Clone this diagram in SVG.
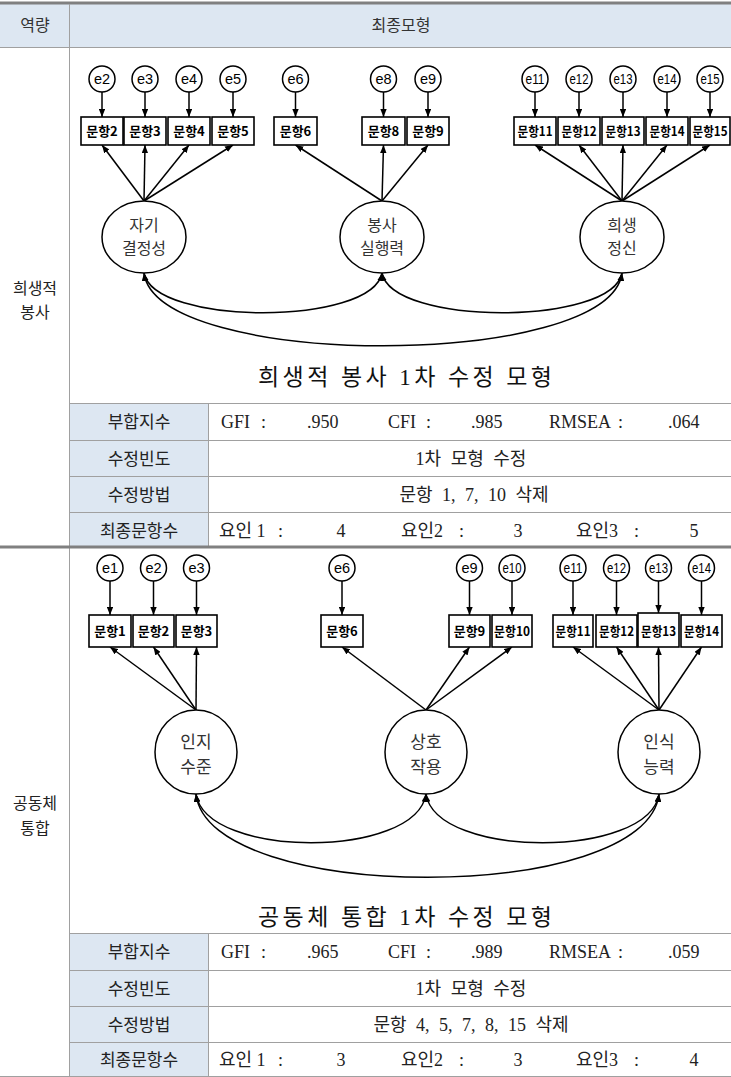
<svg xmlns="http://www.w3.org/2000/svg" width="731" height="1077" viewBox="0 0 731 1077">
<defs>
<style>
.bx{fill:#fff;stroke:#000;stroke-width:1.6}
.ci{fill:#fff;stroke:#000;stroke-width:1.5}
.bt{font-family:"Noto Sans CJK KR",sans-serif;font-weight:700;font-size:13px;fill:#000;text-anchor:middle}
.et{font-family:"Liberation Sans",Arial,sans-serif;font-size:14.5px;fill:#000;text-anchor:middle}
.lt{font-family:"Noto Sans CJK KR",sans-serif;font-size:16px;fill:#333;text-anchor:middle}
.lb{font-family:"Noto Sans CJK KR",sans-serif;font-size:17px;fill:#333;text-anchor:middle}
.ar{stroke:#000;stroke-width:1.5;fill:none;marker-end:url(#ah)}
.cv{stroke:#000;stroke-width:1.5;fill:none;marker-end:url(#ah);marker-start:url(#ahs)}
.gl{stroke:#a0a0a0;stroke-width:1;fill:none}
.tk{stroke:#808080;stroke-width:3;fill:none}
.hf{fill:#dde7f2}
.rl{font-family:"Noto Sans CJK KR",sans-serif;font-size:17px;fill:#222;text-anchor:middle}
.hd{font-family:"Noto Sans CJK KR",sans-serif;font-size:16px;fill:#333;text-anchor:middle}
.sd{font-family:"Noto Sans CJK KR",sans-serif;font-size:16px;fill:#222;text-anchor:middle}
.rv{font-family:"Liberation Serif","Noto Sans CJK KR",serif;font-size:18px;fill:#222}
.rc{font-family:"Liberation Serif","Noto Sans CJK KR",serif;font-size:18px;fill:#222;text-anchor:middle;word-spacing:5px}
.ttl{font-family:"Liberation Serif","Noto Sans CJK KR",serif;font-size:23px;fill:#111;text-anchor:middle}
</style>
<marker id="ah" viewBox="0 0 10 8" refX="10" refY="4" markerWidth="8" markerHeight="6.5" markerUnits="userSpaceOnUse" orient="auto"><path d="M0,0 L10,4 L0,8 z" fill="#000"/></marker>
<marker id="ahs" viewBox="0 0 10 8" refX="10" refY="4" markerWidth="8" markerHeight="6.5" markerUnits="userSpaceOnUse" orient="auto-start-reverse"><path d="M0,0 L10,4 L0,8 z" fill="#000"/></marker>
</defs>
<rect width="731" height="1077" fill="#fff"/>

<g id="table">
<rect class="hf" x="0" y="4" width="731" height="43"/>
<rect class="hf" x="70" y="404" width="138" height="143"/>
<rect class="hf" x="70" y="934" width="138" height="143"/>
<line class="tk" x1="0" y1="3" x2="731" y2="3"/>
<line class="gl" x1="0" y1="47.5" x2="731" y2="47.5"/>
<line class="gl" x1="69.5" y1="4" x2="69.5" y2="1077"/>
<line class="gl" x1="70" y1="403.5" x2="731" y2="403.5"/>
<line class="gl" x1="70" y1="440.5" x2="731" y2="440.5"/>
<line class="gl" x1="70" y1="476.5" x2="731" y2="476.5"/>
<line class="gl" x1="70" y1="512.5" x2="731" y2="512.5"/>
<line class="gl" x1="208.5" y1="403.5" x2="208.5" y2="546"/>
<line class="tk" x1="0" y1="547" x2="731" y2="547"/>
<line class="gl" x1="70" y1="933.5" x2="731" y2="933.5"/>
<line class="gl" x1="70" y1="970.5" x2="731" y2="970.5"/>
<line class="gl" x1="70" y1="1006.5" x2="731" y2="1006.5"/>
<line class="gl" x1="70" y1="1042.5" x2="731" y2="1042.5"/>
<line class="gl" x1="208.5" y1="933.5" x2="208.5" y2="1077"/>
<line class="gl" x1="0" y1="1076.5" x2="731" y2="1076.5"/>
<text class="hd" x="35" y="31">역량</text>
<text class="hd" x="401" y="31">최종모형</text>
<text class="sd" x="35" y="294">희생적</text>
<text class="sd" x="35" y="318">봉사</text>
<text class="sd" x="35" y="809">공동체</text>
<text class="sd" x="35" y="834">통합</text>
</g>

<g id="table-top-rows">
<text class="rl" x="139" y="428">부합지수</text>
<text class="rl" x="139" y="465">수정빈도</text>
<text class="rl" x="139" y="501">수정방법</text>
<text class="rl" x="139" y="537">최종문항수</text>
<text class="rv" x="221" y="428">GFI<tspan x="261">:</tspan></text>
<text class="rv" x="307" y="428">.950</text>
<text class="rv" x="388" y="428">CFI<tspan x="426">:</tspan></text>
<text class="rv" x="471" y="428">.985</text>
<text class="rv" x="549" y="428">RMSEA<tspan x="618">:</tspan></text>
<text class="rv" x="668" y="428">.064</text>
<text class="rc" x="471" y="465">1차 모형 수정</text>
<text class="rc" x="474" y="501">문항 1, 7, 10 삭제</text>
<text class="rv" x="219" y="537">요인 1<tspan x="278">:</tspan></text>
<text class="rv" x="341" y="537" text-anchor="middle">4</text>
<text class="rv" x="401" y="537">요인2<tspan x="459">:</tspan></text>
<text class="rv" x="518" y="537" text-anchor="middle">3</text>
<text class="rv" x="576" y="537">요인3<tspan x="634">:</tspan></text>
<text class="rv" x="694" y="537" text-anchor="middle">5</text>
</g>

<g id="table-bottom-rows">
<text class="rl" x="139" y="958">부합지수</text>
<text class="rl" x="139" y="995">수정빈도</text>
<text class="rl" x="139" y="1031">수정방법</text>
<text class="rl" x="139" y="1066">최종문항수</text>
<text class="rv" x="221" y="958">GFI<tspan x="261">:</tspan></text>
<text class="rv" x="307" y="958">.965</text>
<text class="rv" x="388" y="958">CFI<tspan x="426">:</tspan></text>
<text class="rv" x="471" y="958">.989</text>
<text class="rv" x="549" y="958">RMSEA<tspan x="618">:</tspan></text>
<text class="rv" x="668" y="958">.059</text>
<text class="rc" x="471" y="995">1차 모형 수정</text>
<text class="rc" x="471" y="1031">문항 4, 5, 7, 8, 15 삭제</text>
<text class="rv" x="219" y="1066">요인 1<tspan x="278">:</tspan></text>
<text class="rv" x="341" y="1066" text-anchor="middle">3</text>
<text class="rv" x="401" y="1066">요인2<tspan x="459">:</tspan></text>
<text class="rv" x="518" y="1066" text-anchor="middle">3</text>
<text class="rv" x="576" y="1066">요인3<tspan x="634">:</tspan></text>
<text class="rv" x="694" y="1066" text-anchor="middle">4</text>
</g>

<text class="ttl" x="405" y="385" textLength="294">희생적 봉사 1차 수정 모형</text>
<text class="ttl" x="405" y="925" textLength="294">공동체 통합 1차 수정 모형</text>

<g id="connectors">
<line class="ar" x1="102" y1="92" x2="102" y2="117"/>
<line class="ar" x1="145" y1="92" x2="145" y2="117"/>
<line class="ar" x1="189" y1="92" x2="189" y2="117"/>
<line class="ar" x1="233" y1="92" x2="233" y2="117"/>
<line class="ar" x1="295.5" y1="92" x2="295.5" y2="117"/>
<line class="ar" x1="383.5" y1="92" x2="383.5" y2="117"/>
<line class="ar" x1="428" y1="92" x2="428" y2="117"/>
<line class="ar" x1="535" y1="92" x2="535" y2="117"/>
<line class="ar" x1="579" y1="92" x2="579" y2="117"/>
<line class="ar" x1="623" y1="92" x2="623" y2="117"/>
<line class="ar" x1="667" y1="92" x2="667" y2="117"/>
<line class="ar" x1="710" y1="92" x2="710" y2="117"/>
<line class="ar" x1="144" y1="201" x2="102" y2="145"/>
<line class="ar" x1="144" y1="201" x2="145" y2="145"/>
<line class="ar" x1="144" y1="201" x2="189" y2="145"/>
<line class="ar" x1="144" y1="201" x2="233" y2="145"/>
<line class="ar" x1="382" y1="201" x2="295.5" y2="145"/>
<line class="ar" x1="382" y1="201" x2="383.5" y2="145"/>
<line class="ar" x1="382" y1="201" x2="428" y2="145"/>
<line class="ar" x1="622" y1="201" x2="535" y2="145"/>
<line class="ar" x1="622" y1="201" x2="579" y2="145"/>
<line class="ar" x1="622" y1="201" x2="623" y2="145"/>
<line class="ar" x1="622" y1="201" x2="667" y2="145"/>
<line class="ar" x1="622" y1="201" x2="710" y2="145"/>
<path class="cv" d="M144,273 C154,326 372,326 382,273"/>
<path class="cv" d="M382,273 C392,326 612,326 622,273"/>
<path class="cv" d="M144,273 C156,370 610,370 622,273"/>
<line class="ar" x1="110" y1="581" x2="110" y2="615"/>
<line class="ar" x1="153.5" y1="581" x2="153.5" y2="615"/>
<line class="ar" x1="196.5" y1="581" x2="196.5" y2="615"/>
<line class="ar" x1="342" y1="581" x2="342" y2="615"/>
<line class="ar" x1="469.5" y1="581" x2="469.5" y2="615"/>
<line class="ar" x1="512" y1="581" x2="512" y2="615"/>
<line class="ar" x1="573" y1="581" x2="573" y2="615"/>
<line class="ar" x1="616.5" y1="581" x2="616.5" y2="615"/>
<line class="ar" x1="658.5" y1="581" x2="658.5" y2="613"/>
<line class="ar" x1="701.5" y1="581" x2="701.5" y2="615"/>
<line class="ar" x1="196" y1="710" x2="110" y2="647"/>
<line class="ar" x1="196" y1="710" x2="153.5" y2="647"/>
<line class="ar" x1="196" y1="710" x2="196.5" y2="647"/>
<line class="ar" x1="426" y1="710" x2="342" y2="647"/>
<line class="ar" x1="426" y1="710" x2="469.5" y2="647"/>
<line class="ar" x1="426" y1="710" x2="512" y2="647"/>
<line class="ar" x1="659" y1="710" x2="573" y2="647"/>
<line class="ar" x1="659" y1="710" x2="616.5" y2="647"/>
<line class="ar" x1="659" y1="710" x2="658.5" y2="647"/>
<line class="ar" x1="659" y1="710" x2="701.5" y2="647"/>
<path class="cv" d="M196,794 C206,859 416,859 426,794"/>
<path class="cv" d="M426,794 C436,859 649,859 659,794"/>
<path class="cv" d="M196,794 C208,905 647,905 659,794"/>
</g>

<g id="e2"><circle class="ci" cx="102" cy="79" r="13"/><text class="et" x="102" y="84">e2</text></g>
<g id="e3"><circle class="ci" cx="145" cy="79" r="13"/><text class="et" x="145" y="84">e3</text></g>
<g id="e4"><circle class="ci" cx="189" cy="79" r="13"/><text class="et" x="189" y="84">e4</text></g>
<g id="e5"><circle class="ci" cx="233" cy="79" r="13"/><text class="et" x="233" y="84">e5</text></g>
<g id="e6"><circle class="ci" cx="295.5" cy="79" r="13"/><text class="et" x="295.5" y="84">e6</text></g>
<g id="e8"><circle class="ci" cx="383.5" cy="79" r="13"/><text class="et" x="383.5" y="84">e8</text></g>
<g id="e9"><circle class="ci" cx="428" cy="79" r="13"/><text class="et" x="428" y="84">e9</text></g>
<g id="e11"><circle class="ci" cx="535" cy="79" r="13"/><text class="et" x="535" y="84" textLength="19" lengthAdjust="spacingAndGlyphs">e11</text></g>
<g id="e12"><circle class="ci" cx="579" cy="79" r="13"/><text class="et" x="579" y="84" textLength="19" lengthAdjust="spacingAndGlyphs">e12</text></g>
<g id="e13"><circle class="ci" cx="623" cy="79" r="13"/><text class="et" x="623" y="84" textLength="19" lengthAdjust="spacingAndGlyphs">e13</text></g>
<g id="e14"><circle class="ci" cx="667" cy="79" r="13"/><text class="et" x="667" y="84" textLength="19" lengthAdjust="spacingAndGlyphs">e14</text></g>
<g id="e15"><circle class="ci" cx="710" cy="79" r="13"/><text class="et" x="710" y="84" textLength="19" lengthAdjust="spacingAndGlyphs">e15</text></g>

<g id="q2"><rect class="bx" x="81" y="117" width="42" height="28"/><text class="bt" x="102" y="136">문항2</text></g>
<g id="q3"><rect class="bx" x="124" y="117" width="42" height="28"/><text class="bt" x="145" y="136">문항3</text></g>
<g id="q4"><rect class="bx" x="168" y="117" width="42" height="28"/><text class="bt" x="189" y="136">문항4</text></g>
<g id="q5"><rect class="bx" x="212" y="117" width="42" height="28"/><text class="bt" x="233" y="136">문항5</text></g>
<g id="q6"><rect class="bx" x="274" y="117" width="43" height="28"/><text class="bt" x="295.5" y="136">문항6</text></g>
<g id="q8"><rect class="bx" x="362" y="117" width="43" height="28"/><text class="bt" x="383.5" y="136">문항8</text></g>
<g id="q9"><rect class="bx" x="407" y="117" width="42" height="28"/><text class="bt" x="428" y="136">문항9</text></g>
<g id="q11"><rect class="bx" x="514" y="117" width="42" height="28"/><text class="bt" x="535" y="136" textLength="35" lengthAdjust="spacingAndGlyphs">문항11</text></g>
<g id="q12"><rect class="bx" x="558" y="117" width="42" height="28"/><text class="bt" x="579" y="136" textLength="35" lengthAdjust="spacingAndGlyphs">문항12</text></g>
<g id="q13"><rect class="bx" x="602" y="117" width="42" height="28"/><text class="bt" x="623" y="136" textLength="35" lengthAdjust="spacingAndGlyphs">문항13</text></g>
<g id="q14"><rect class="bx" x="646" y="117" width="42" height="28"/><text class="bt" x="667" y="136" textLength="35" lengthAdjust="spacingAndGlyphs">문항14</text></g>
<g id="q15"><rect class="bx" x="690" y="117" width="40" height="28"/><text class="bt" x="710" y="136" textLength="35" lengthAdjust="spacingAndGlyphs">문항15</text></g>

<g id="f1"><ellipse class="ci" cx="144" cy="237" rx="42" ry="36"/><text class="lt" x="144" y="231">자기</text><text class="lt" x="144" y="254">결정성</text></g>
<g id="f2"><ellipse class="ci" cx="382" cy="237" rx="42" ry="36"/><text class="lt" x="382" y="231">봉사</text><text class="lt" x="382" y="254">실행력</text></g>
<g id="f3"><ellipse class="ci" cx="622" cy="237" rx="42" ry="36"/><text class="lt" x="622" y="231">희생</text><text class="lt" x="622" y="254">정신</text></g>

<g id="b-e1"><circle class="ci" cx="110" cy="568" r="13"/><text class="et" x="110" y="573">e1</text></g>
<g id="b-e2"><circle class="ci" cx="153.5" cy="568" r="13"/><text class="et" x="153.5" y="573">e2</text></g>
<g id="b-e3"><circle class="ci" cx="196.5" cy="568" r="13"/><text class="et" x="196.5" y="573">e3</text></g>
<g id="b-e6"><circle class="ci" cx="342" cy="568" r="13"/><text class="et" x="342" y="573">e6</text></g>
<g id="b-e9"><circle class="ci" cx="469.5" cy="568" r="13"/><text class="et" x="469.5" y="573">e9</text></g>
<g id="b-e10"><circle class="ci" cx="512" cy="568" r="13"/><text class="et" x="512" y="573" textLength="19" lengthAdjust="spacingAndGlyphs">e10</text></g>
<g id="b-e11"><circle class="ci" cx="573" cy="568" r="13"/><text class="et" x="573" y="573" textLength="19" lengthAdjust="spacingAndGlyphs">e11</text></g>
<g id="b-e12"><circle class="ci" cx="616.5" cy="568" r="13"/><text class="et" x="616.5" y="573" textLength="19" lengthAdjust="spacingAndGlyphs">e12</text></g>
<g id="b-e13"><circle class="ci" cx="658.5" cy="568" r="13"/><text class="et" x="658.5" y="573" textLength="19" lengthAdjust="spacingAndGlyphs">e13</text></g>
<g id="b-e14"><circle class="ci" cx="701.5" cy="568" r="13"/><text class="et" x="701.5" y="573" textLength="19" lengthAdjust="spacingAndGlyphs">e14</text></g>

<g id="b-q1"><rect class="bx" x="89" y="615" width="42" height="32"/><text class="bt" x="110" y="636">문항1</text></g>
<g id="b-q2"><rect class="bx" x="133" y="615" width="41" height="32"/><text class="bt" x="153.5" y="636">문항2</text></g>
<g id="b-q3"><rect class="bx" x="176" y="615" width="41" height="32"/><text class="bt" x="196.5" y="636">문항3</text></g>
<g id="b-q6"><rect class="bx" x="321" y="615" width="42" height="32"/><text class="bt" x="342" y="636">문항6</text></g>
<g id="b-q9"><rect class="bx" x="449" y="615" width="41" height="32"/><text class="bt" x="469.5" y="636">문항9</text></g>
<g id="b-q10"><rect class="bx" x="492" y="615" width="40" height="32"/><text class="bt" x="512" y="636" textLength="36" lengthAdjust="spacingAndGlyphs">문항10</text></g>
<g id="b-q11"><rect class="bx" x="553" y="615" width="40" height="32"/><text class="bt" x="573" y="636" textLength="35" lengthAdjust="spacingAndGlyphs">문항11</text></g>
<g id="b-q12"><rect class="bx" x="596" y="615" width="41" height="32"/><text class="bt" x="616.5" y="636" textLength="35" lengthAdjust="spacingAndGlyphs">문항12</text></g>
<g id="b-q13"><rect class="bx" x="638" y="613" width="41" height="34"/><text class="bt" x="658.5" y="636" textLength="35" lengthAdjust="spacingAndGlyphs">문항13</text></g>
<g id="b-q14"><rect class="bx" x="681" y="615" width="41" height="32"/><text class="bt" x="701.5" y="636" textLength="35" lengthAdjust="spacingAndGlyphs">문항14</text></g>

<g id="b-f1"><ellipse class="ci" cx="196" cy="752" rx="41" ry="42"/><text class="lb" x="196" y="748">인지</text><text class="lb" x="196" y="773">수준</text></g>
<g id="b-f2"><ellipse class="ci" cx="426" cy="752" rx="41" ry="42"/><text class="lb" x="426" y="748">상호</text><text class="lb" x="426" y="773">작용</text></g>
<g id="b-f3"><ellipse class="ci" cx="659" cy="752" rx="41" ry="42"/><text class="lb" x="659" y="748">인식</text><text class="lb" x="659" y="773">능력</text></g>
</svg>
